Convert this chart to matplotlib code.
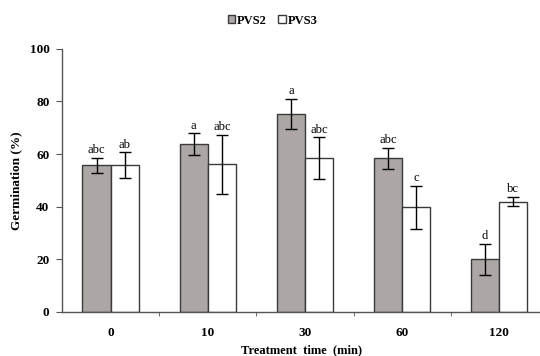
import numpy as np
import matplotlib
matplotlib.use("Agg")
import matplotlib.pyplot as plt

times = ["0", "10", "30", "60", "120"]
pvs2 = [55.7, 63.8, 75.3, 58.4, 19.9]
pvs2_err = [2.9, 4.1, 5.8, 4.0, 6.0]
pvs3 = [55.7, 56.1, 58.4, 39.7, 41.9]
pvs3_err = [5.0, 11.2, 8.0, 8.2, 1.8]
pvs2_letters = ["abc", "a", "a", "abc", "d"]
pvs3_letters = ["ab", "abc", "abc", "c", "bc"]

font = {'family': 'serif', 'serif': ['Liberation Serif', 'DejaVu Serif']}
matplotlib.rc('font', **font)

fig = plt.figure(figsize=(5.4, 3.56), dpi=100)
ax = fig.add_axes([0.115, 0.1245, 0.885, 0.738])

x = np.arange(len(times))
w = 0.29
ekw = dict(ecolor='black', elinewidth=1, capsize=4, capthick=1)
b1 = ax.bar(x - w/2, pvs2, w, yerr=pvs2_err, color='#aca7a5', edgecolor='#3a3a3a',
            linewidth=1, error_kw=ekw, label='PVS2')
b2 = ax.bar(x + w/2, pvs3, w, yerr=pvs3_err, color='white', edgecolor='#3a3a3a',
            linewidth=1, error_kw=ekw, label='PVS3')

for i in range(len(times)):
    ax.text(x[i] - w/2, pvs2[i] + pvs2_err[i] + 0.6, pvs2_letters[i],
            ha='center', va='bottom', fontsize=9)
    ax.text(x[i] + w/2, pvs3[i] + pvs3_err[i] + 0.6, pvs3_letters[i],
            ha='center', va='bottom', fontsize=9)

ax.set_xlim(-0.5, 4.42)
ax.set_ylim(0, 100)
ax.set_yticks(range(0, 101, 20))
ax.set_xticks(x)
ax.set_xticklabels(times)
ax.set_xticks(x[:-1] + 0.5, minor=True)
ax.tick_params(axis='x', which='major', length=0, pad=11)
ax.tick_params(axis='x', which='minor', length=3, direction='out', color='#555555')
ax.tick_params(axis='y', length=4, direction='out', color='#555555', pad=5)
for lab in ax.get_xticklabels() + ax.get_yticklabels():
    lab.set_fontweight('bold')
    lab.set_fontsize(9.5)

for s in ['top', 'right']:
    ax.spines[s].set_visible(False)
for s in ['left', 'bottom']:
    ax.spines[s].set_color('#555555')
    ax.spines[s].set_linewidth(1)

ax.set_ylabel("Germination (%)", fontweight='bold', fontsize=9.5, labelpad=5)
ax.set_xlabel("Treatment  time  (min)", fontweight='bold', fontsize=9, labelpad=4)

fig.legend(handles=[b1, b2], labels=['PVS2', 'PVS3'], loc='upper center',
           bbox_to_anchor=(0.505, 0.99), ncol=2, frameon=False,
           handlelength=0.6, handleheight=0.6, handletextpad=0.15,
           columnspacing=0.9, prop={'weight': 'bold', 'size': 9})

plt.savefig("out.png", dpi=100)
